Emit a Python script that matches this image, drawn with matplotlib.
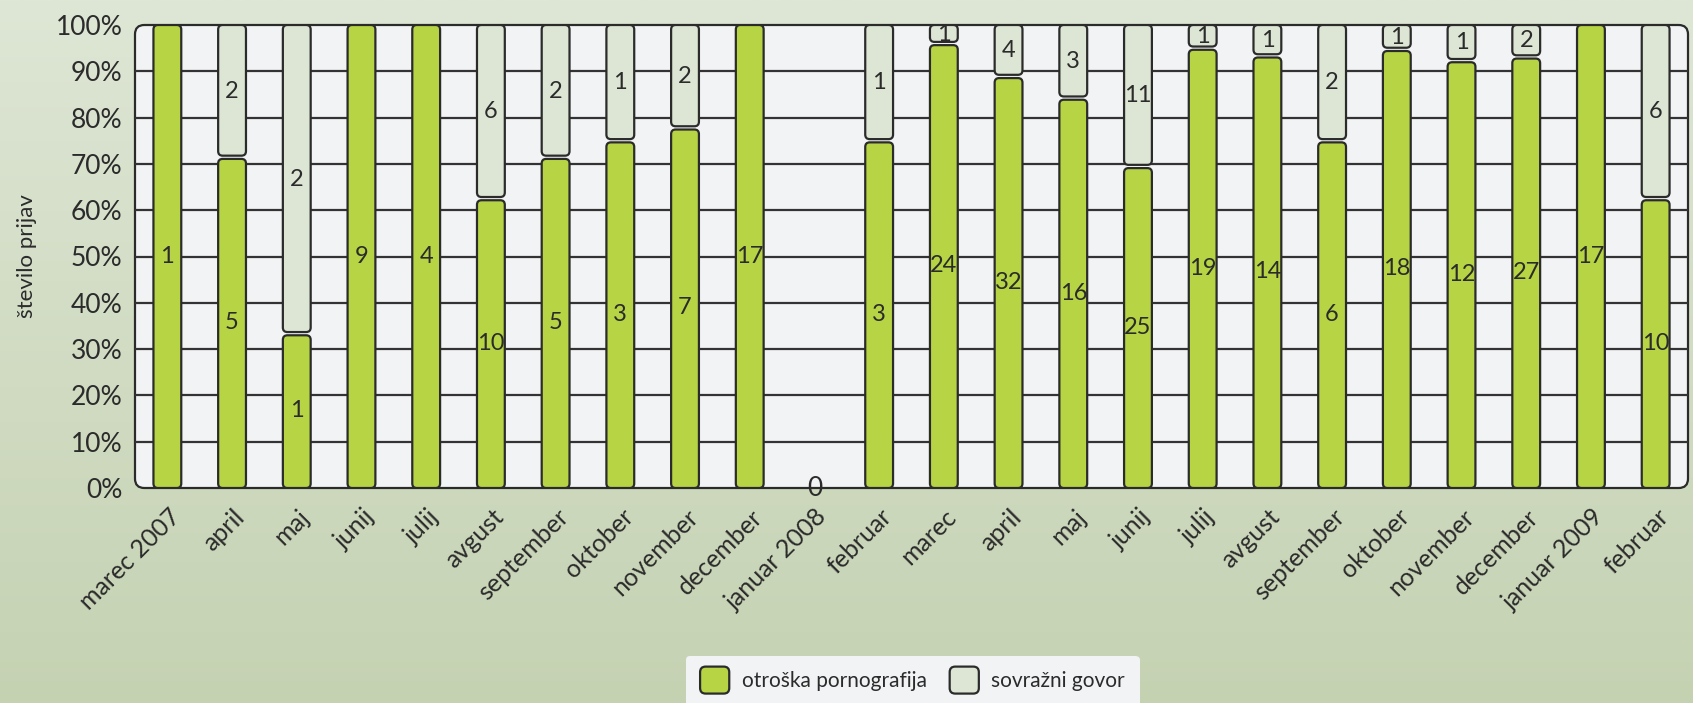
import numpy as np
import matplotlib.pyplot as plt
from matplotlib.patches import FancyBboxPatch, Patch
from matplotlib.legend_handler import HandlerPatch
from matplotlib.transforms import ScaledTranslation

plt.rcParams['font.family'] = ['Lato', 'DejaVu Sans']

# --- podatki ---
months = ['marec 2007', 'april', 'maj', 'junij', 'julij', 'avgust', 'september',
          'oktober', 'november', 'december', 'januar 2008', 'februar', 'marec',
          'april', 'maj', 'junij', 'julij', 'avgust', 'september', 'oktober',
          'november', 'december', 'januar 2009', 'februar']
child_porn = [1, 5, 1, 9, 4, 10, 5, 3, 7, 17, 0, 3, 24, 32, 16, 25, 19, 14, 6, 18, 12, 27, 17, 10]
hate_speech = [0, 2, 2, 0, 0, 6, 2, 1, 2, 0, 0, 1, 1, 4, 3, 11, 1, 1, 2, 1, 1, 2, 0, 6]
series_names = ['otroška pornografija', 'sovražni govor']

GREEN = '#b6d443'
LIGHT = '#dde6d4'
EDGE = '#2b2b2b'
PLOT_BG = '#f2f3f5'

cp = np.array(child_porn, dtype=float)
hs = np.array(hate_speech, dtype=float)
tot = cp + hs
pct_cp = np.where(tot > 0, cp / np.where(tot > 0, tot, 1) * 100, 0)
pct_hs = np.where(tot > 0, hs / np.where(tot > 0, tot, 1) * 100, 0)
x = np.arange(len(months))

fig = plt.figure(figsize=(16.93, 7.03), dpi=100)

# gradient ozadje
bg = fig.add_axes([0, 0, 1, 1], zorder=-10)
top = np.array([222, 230, 213]) / 255
bot = np.array([197, 210, 178]) / 255
t = np.linspace(0, 1, 256)[:, None]
grad = (top * (1 - t) + bot * t)[:, None, :]
bg.imshow(grad, aspect='auto', extent=[0, 1, 0, 1])
bg.axis('off')

ax = fig.add_axes([135 / 1693, 1 - 488 / 703, 1553 / 1693, 463 / 703])
ax.set_xlim(-0.5, len(months) - 0.5)
ax.set_ylim(0, 100)
ax.patch.set_visible(False)
for s in ax.spines.values():
    s.set_visible(False)

# ozadje risalne ploskve z zaobljenimi robovi
frame = FancyBboxPatch((0, 0), 1, 1, boxstyle='round,pad=0,rounding_size=0.006',
                       mutation_aspect=1553 / 463, transform=ax.transAxes,
                       fc=PLOT_BG, ec=EDGE, lw=1.6, zorder=0, clip_on=False)
ax.add_patch(frame)
for yv in range(10, 100, 10):
    ax.axhline(yv, color='#333333', lw=1.6, zorder=1)

# aspect za zaobljene stolpce (px na enoto x / px na enoto y)
px_x = 1553 / len(months)
px_y = 463 / 100
ASP = px_x / px_y
width = 0.43
gap = 0.35


def rounded_bars(bars, fc):
    for r in bars:
        bx, by = r.get_xy()
        w, h = r.get_width(), r.get_height()
        r.remove()
        if h <= 0:
            continue
        ax.add_patch(FancyBboxPatch((bx, by), w, h,
                                    boxstyle='round,pad=0,rounding_size=0.07',
                                    mutation_aspect=ASP, fc=fc, ec=EDGE, lw=1.6, zorder=3))


both = (pct_cp > 0) & (pct_hs > 0)
g_h = pct_cp - np.where(both, gap, 0)
h_b = pct_cp + np.where(both, gap, 0)
h_h = pct_hs - np.where(both, gap, 0)
rounded_bars(ax.bar(x, g_h, width=width), GREEN)
rounded_bars(ax.bar(x, h_h, bottom=h_b, width=width), LIGHT)

for i in x:
    if tot[i] == 0:
        ax.text(i, 0, '0', ha='center', va='center', fontsize=19, color='#2b2b2b', zorder=5)
        continue
    if cp[i] > 0:
        ax.text(i, pct_cp[i] / 2, f'{int(cp[i])}', ha='center', va='center',
                fontsize=17, color='#2b2b2b', zorder=5)
    if hs[i] > 0:
        ax.text(i, pct_cp[i] + pct_hs[i] / 2, f'{int(hs[i])}', ha='center', va='center',
                fontsize=17, color='#2b2b2b', zorder=5)

ax.set_yticks(range(0, 101, 10))
ax.set_yticklabels([f'{v}%' for v in range(0, 101, 10)], fontsize=19, color='#2b2b2b')
ax.tick_params(axis='y', length=0, pad=9)
ax.set_ylabel('število prijav', fontsize=16, color='#2b2b2b')
ax.yaxis.set_label_coords(-0.063, 0.5)

ax.set_xticks(x)
ax.set_xticklabels(months, fontsize=18, color='#2b2b2b', rotation=45,
                   ha='right', va='center', rotation_mode='anchor')
ax.tick_params(axis='x', length=0, pad=18)
off = ScaledTranslation(0.09, 0, fig.dpi_scale_trans)
for lab in ax.get_xticklabels():
    lab.set_transform(lab.get_transform() + off)


class RoundHandler(HandlerPatch):
    def create_artists(self, legend, orig_handle, xdescent, ydescent, width, height,
                       fontsize, trans):
        p = FancyBboxPatch((-xdescent, -ydescent - 3), width, height + 6,
                           boxstyle='round,pad=0,rounding_size=4',
                           fc=orig_handle.get_facecolor(), ec=EDGE, lw=1.6, transform=trans)
        return [p]


handles = [Patch(fc=GREEN), Patch(fc=LIGHT)]
leg = fig.legend(handles, series_names, loc='lower center', bbox_to_anchor=(0.539, -0.004),
                 ncol=2, frameon=True, facecolor=PLOT_BG, edgecolor='none', fancybox=True,
                 fontsize=15, handlelength=1.4, handleheight=1.0, borderaxespad=0,
                 columnspacing=1.1, handletextpad=0.6, borderpad=0.7,
                 handler_map={Patch: RoundHandler()})
leg.get_frame().set_alpha(1)
for txt in leg.get_texts():
    txt.set_color('#2b2b2b')

fig.savefig('out.png', dpi=100)
